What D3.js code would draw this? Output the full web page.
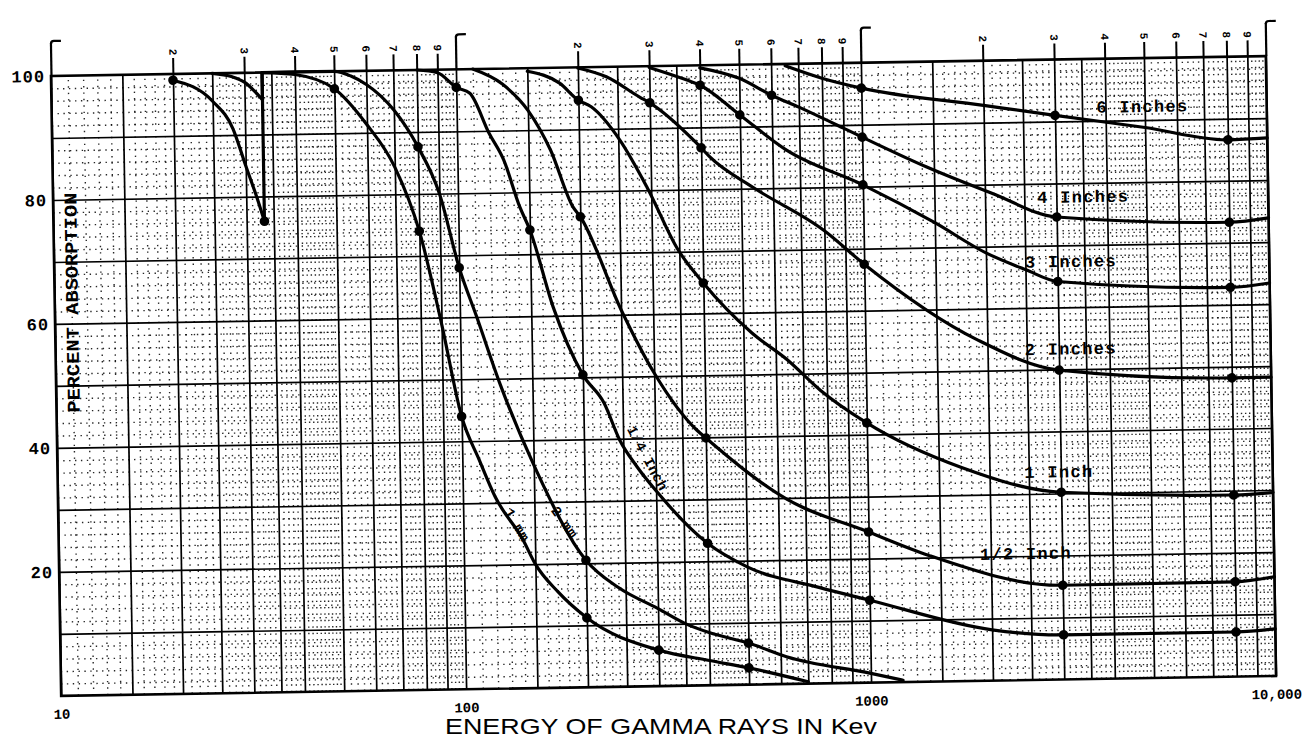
<!DOCTYPE html>
<html>
<head>
<meta charset="utf-8">
<script src="https://cdn.jsdelivr.net/npm/d3@7"></script>
<style>
  body { margin: 0; background: #fff; }
  svg { display: block; background: #fff; }
  .mono { font-family: "Liberation Mono", "DejaVu Sans Mono", monospace; font-weight: bold; fill: #000; }
</style>
</head>
<body>
<svg id="chart" width="1316" height="746"></svg>
<script>
// Percent absorption vs gamma energy (keV), NaI crystal thickness curves

const yTicks = [20, 40, 60, 80, 100];
const xLabelValues = [10, 100, 1000, 10000];
const xLabels = ["10", "100", "1000", "10,000"];
const gridMults = [1, 1.5, 2, 2.5, 3, 3.5, 4, 5, 6, 7, 8, 9];
const digitMults = [2, 3, 4, 5, 6, 7, 8, 9];
const kEdge = 33.2;

// 1 mm (below and above the iodine K edge)
const mm1PreE = [20, 25, 28, 30, 32, 33.2];
const mm1PreP = [99, 95.5, 91, 85, 79.5, 76];
const mm1PreDots = [20, 33.2];
const mm1E = [33.2, 40, 50, 60, 70, 80, 90, 100, 110, 120, 140, 150, 170, 200, 300, 400, 500, 700];
const mm1P = [100, 99.6, 97.2, 91.3, 84.4, 74, 59, 44, 37, 31, 24, 20, 15.5, 11.2, 5.8, 4, 2.7, 0.3];
const mm1Dots = [50, 80, 100, 200, 300, 500];

// 2 mm
const mm2PreE = [25, 28, 30, 33.2];
const mm2PreP = [100, 99.4, 98.5, 95.6];
const mm2E = [33.2, 50, 55, 60, 70, 80, 90, 100, 110, 125, 150, 200, 240, 300, 350, 400, 500, 620, 1000, 1200];
const mm2P = [100, 100, 99.2, 97.8, 93.6, 87.6, 80, 68, 60, 49, 36, 20.5, 16, 12.5, 10, 8.5, 6.7, 4.4, 1.5, 0.3];
const mm2Dots = [80, 100, 200, 500];

// 1/4 inch
const quarterE = [80, 90, 100, 108, 120, 130, 142, 150, 170, 200, 225, 245, 270, 300, 400, 500, 750, 1000, 2000, 3000, 8000, 10000];
const quarterP = [100, 99.5, 97.1, 96.1, 89.6, 85.3, 77.6, 73.9, 61.4, 50.4, 45.8, 39.8, 35.4, 31.5, 22.9, 19, 15.5, 13.3, 8.2, 7.2, 7.2, 7.6];
const quarterDots = [100, 150, 200, 400, 1000, 3000, 8000];

// 1/2 inch
const halfE = [110, 130, 150, 170, 192, 200, 250, 300, 380, 400, 630, 1000, 1400, 3000, 8000, 10000];
const halfP = [100, 97.5, 93.2, 86.7, 77.5, 75.9, 60.8, 50.5, 41.2, 39.9, 29.8, 24.3, 20.4, 15.2, 15.3, 16];
const halfDots = [200, 400, 1000, 3000, 8000];

// 1 inch
const oneE = [150, 180, 200, 215, 252, 293, 347, 400, 525, 640, 770, 1000, 1700, 3000, 8000, 10000];
const oneP = [99.5, 97.5, 94.7, 93.6, 88.2, 80.5, 70.4, 64.9, 56.7, 52.3, 47.3, 41.9, 34.5, 30.2, 29.3, 29.6];
const oneDots = [200, 400, 1000, 3000, 8000];

// 2 inches
const twoE = [200, 235, 284, 300, 383, 400, 420, 535, 800, 1000, 1890, 3000, 8000, 10000];
const twoP = [99.9, 98.4, 95, 94.1, 88, 86.7, 85.2, 80.2, 73, 67.5, 55, 49.9, 48.2, 48.2];
const twoDots = [300, 400, 1000, 3000, 8000];

// 3 inches
const threeE = [300, 370, 400, 500, 650, 1000, 1500, 2000, 2500, 3000, 8000, 10000];
const threeP = [99.8, 97.7, 96.8, 91.9, 86.1, 80.3, 74, 69, 66.2, 64.2, 62.8, 63.4];
const threeDots = [400, 500, 1000, 3000, 8000];

// 4 inches
const fourE = [400, 500, 600, 700, 900, 1000, 1440, 2080, 3000, 8000, 10000];
const fourP = [99.6, 97.8, 95, 93, 89.5, 88, 83, 78.6, 74.6, 73.3, 73.9];
const fourDots = [600, 1000, 3000, 8000];

// 6 inches
const sixE = [650, 800, 1000, 2000, 3000, 5000, 8000, 10000];
const sixP = [99.7, 97.6, 95.9, 92.8, 91, 88.8, 86.6, 86.8];
const sixDots = [1000, 3000, 8000];

const zip = (es, ps) => es.map((e, i) => [e, ps[i]]);
const series = [
  { pts: zip(mm1PreE, mm1PreP), dots: mm1PreDots },
  { pts: zip(mm1E, mm1P), dots: mm1Dots },
  { pts: zip(mm2PreE, mm2PreP), dots: [] },
  { pts: zip(mm2E, mm2P), dots: mm2Dots },
  { pts: zip(quarterE, quarterP), dots: quarterDots },
  { pts: zip(halfE, halfP), dots: halfDots },
  { pts: zip(oneE, oneP), dots: oneDots },
  { pts: zip(twoE, twoP), dots: twoDots },
  { pts: zip(threeE, threeP), dots: threeDots },
  { pts: zip(fourE, fourP), dots: fourDots },
  { pts: zip(sixE, sixP), dots: sixDots }
];
// vertical jumps at the K edge
const edges = [[mm1PreP[mm1PreP.length - 1], 100], [mm2PreP[mm2PreP.length - 1], 100]];

// label placement (layout only)
const curveLabels = [
  { text: "6 Inches", e: 3800, p: 91.3, rot: 0, anchor: "start" },
  { text: "4 Inches", e: 2690, p: 76.9, rot: 0, anchor: "start" },
  { text: "3 Inches", e: 2495, p: 66.5, rot: 0, anchor: "start" },
  { text: "2 Inches", e: 2470, p: 52.4, rot: 0, anchor: "start" },
  { text: "1 Inch",   e: 2440, p: 32.6, rot: 0, anchor: "start" },
  { text: "1/2 Inch", e: 1880, p: 19.5, rot: 0, anchor: "start" },
  { text: "1/4 Inch", e: 287,  p: 36.8, rot: 63, anchor: "middle" },
  { text: "2 mm",     e: 178,  p: 26.7, rot: 55, anchor: "middle" },
  { text: "1 mm",     e: 136,  p: 26.4, rot: 61, anchor: "middle" }
];

const svg = d3.select("#chart");
const plotW = 1215, plotH = 620;

const x = d3.scaleLog().domain([10, 10000]).range([0, plotW]);
const y = d3.scaleLinear().domain([0, 100]).range([plotH, 0]);

// the scanned sheet sits slightly tilted
const g = svg.append("g").attr("transform", "translate(51,76) rotate(-0.94)");

// --- grid ---
const decades = [10, 100, 1000];
const fine = d3.range(11, 50).map(i => i / 10)
  .concat(d3.range(52, 100, 2).map(i => i / 10))
  .filter(m => !gridMults.includes(m));
const minorX = decades.flatMap(d => fine.map(m => m * d));
const majorX = decades.flatMap(d => gridMults.map(m => m * d)).concat([10000]);
const minorY = d3.range(2, 100, 2).filter(v => v % 10 !== 0);
const majorY = d3.range(10, 100, 10);

function gridX(vals, cls) {
  const ax = g.append("g")
    .attr("class", cls)
    .attr("transform", `translate(0,${plotH})`)
    .call(d3.axisBottom(x).tickValues(vals).tickSize(-plotH).tickFormat(""));
  ax.select(".domain").remove();
  return ax.selectAll("line");
}
function gridY(vals, cls) {
  const ax = g.append("g")
    .attr("class", cls)
    .call(d3.axisLeft(y).tickValues(vals).tickSize(-plotW).tickFormat(""));
  ax.select(".domain").remove();
  return ax.selectAll("line");
}

gridX(minorX, "minor-x").attr("stroke", "#000").attr("stroke-width", 1.4)
  .attr("stroke-dasharray", "1.4 5").attr("opacity", 0.85);
gridY(minorY, "minor-y").attr("stroke", "#000").attr("stroke-width", 1.4)
  .attr("stroke-dasharray", "1.4 4.5").attr("opacity", 0.85);
gridX(majorX, "major-x").attr("stroke", "#000").attr("stroke-width", 1.7);
gridY(majorY, "major-y").attr("stroke", "#000").attr("stroke-width", 1.7);

g.append("rect")
  .attr("x", 0).attr("y", 0)
  .attr("width", plotW).attr("height", plotH)
  .attr("fill", "none")
  .attr("stroke", "#000")
  .attr("stroke-width", 2.6);

// --- top cycle marks of the log paper ---
const digitVals = decades.flatMap(d => digitMults.map(m => m * d));
const topAx = g.append("g")
  .call(d3.axisTop(x).tickValues(digitVals).tickSize(16).tickFormat(d => String(Math.round(d / Math.pow(10, Math.floor(Math.log10(d) + 1e-9))))));
topAx.select(".domain").remove();
topAx.selectAll("line").attr("stroke", "#000").attr("stroke-width", 2);
topAx.selectAll("text")
  .attr("class", "mono")
  .attr("y", 0).attr("dy", "0.35em")
  .attr("transform", "translate(0,-22) rotate(90)")
  .attr("text-anchor", "middle")
  .style("font-size", "11px");

const hookAx = g.append("g")
  .call(d3.axisTop(x).tickValues(xLabelValues).tickSize(33).tickFormat(""));
hookAx.select(".domain").remove();
hookAx.selectAll("line").attr("stroke", "#000").attr("stroke-width", 2.2);
hookAx.selectAll(".tick").append("path")
  .attr("d", "M0,-32 Q0,-35 3,-35 L10,-35")
  .attr("fill", "none").attr("stroke", "#000").attr("stroke-width", 2.2);

// --- curves ---
const line = d3.line()
  .x(d => x(d[0]))
  .y(d => y(d[1]))
  .curve(d3.curveMonotoneX);

g.append("g").selectAll("path.curve")
  .data(series)
  .enter().append("path")
    .attr("class", "curve")
    .attr("d", d => line(d.pts))
    .attr("fill", "none")
    .attr("stroke", "#000")
    .attr("stroke-width", 3.2)
    .attr("stroke-linecap", "round");

g.append("g").selectAll("line.edge")
  .data(edges)
  .enter().append("line")
    .attr("class", "edge")
    .attr("x1", x(kEdge)).attr("x2", x(kEdge))
    .attr("y1", d => y(d[0])).attr("y2", d => y(d[1]))
    .attr("stroke", "#000").attr("stroke-width", 3.2);

const dotData = series.flatMap(s => s.pts.filter(p => s.dots.includes(p[0])));
g.append("g").selectAll("circle")
  .data(dotData)
  .enter().append("circle")
    .attr("cx", d => x(d[0]))
    .attr("cy", d => y(d[1]))
    .attr("r", 4.8)
    .attr("fill", "#000");

// --- curve labels ---
g.append("g").selectAll("text")
  .data(curveLabels)
  .enter().append("text")
    .attr("class", "mono")
    .attr("text-anchor", d => d.anchor)
    .attr("transform", d => `translate(${x(d.e)},${y(d.p)}) rotate(${d.rot})`)
    .attr("dy", d => d.rot ? "0.35em" : 0)
    .style("font-size", d => d.rot ? "14px" : "17px")
    .style("letter-spacing", d => d.rot ? "0.5px" : "1.3px")
    .text(d => d.text);

// --- axes labels ---
const yAx = g.append("g")
  .call(d3.axisLeft(y).tickValues(yTicks).tickSize(0).tickPadding(6));
yAx.select(".domain").remove();
yAx.selectAll("text").attr("class", "mono").style("font-size", "17px").style("letter-spacing", "1px");

const xAx = g.append("g")
  .attr("transform", `translate(0,${plotH})`)
  .call(d3.axisBottom(x).tickValues(xLabelValues).tickFormat((d, i) => xLabels[i]).tickSize(0).tickPadding(13));
xAx.select(".domain").remove();
xAx.selectAll("text").attr("class", "mono").style("font-size", "14px");

g.append("text")
  .attr("class", "mono")
  .attr("transform", "translate(17,227) rotate(-90)")
  .attr("text-anchor", "middle")
  .attr("dy", "0.35em")
  .attr("textLength", 220)
  .attr("lengthAdjust", "spacingAndGlyphs")
  .style("font-size", "18px")
  .text("PERCENT ABSORPTION");

svg.append("text")
  .attr("x", 445).attr("y", 734)
  .attr("textLength", 432)
  .attr("lengthAdjust", "spacingAndGlyphs")
  .style("font-family", "'Liberation Sans', Arial, sans-serif")
  .style("font-size", "22px")
  .text("ENERGY OF GAMMA RAYS IN Kev");
</script>
</body>
</html>
